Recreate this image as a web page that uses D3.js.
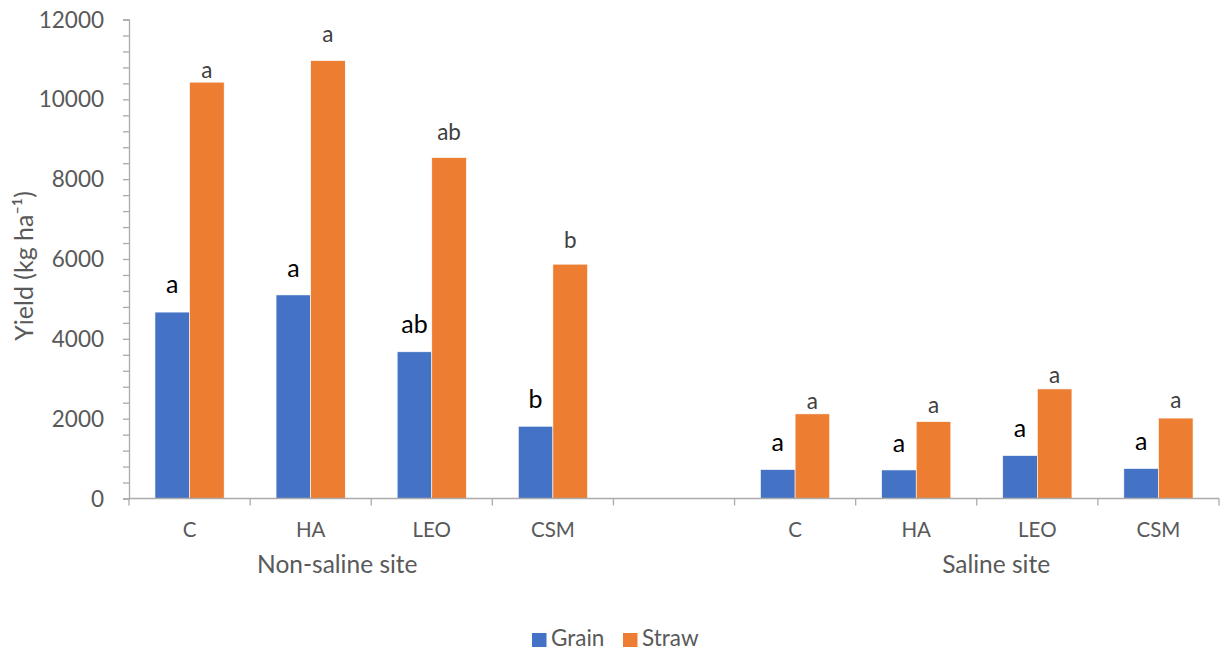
<!DOCTYPE html>
<html>
<head>
<meta charset="utf-8">
<script src="https://cdn.jsdelivr.net/npm/d3@7"></script>
<style>
  html, body { margin: 0; padding: 0; background: #fff; }
  svg { display: block; font-family: Lato, "Open Sans", sans-serif; }
</style>
</head>
<body>
<svg id="chart" width="1220" height="650"></svg>
<script>
// Yield data (kg ha-1) by treatment and site
const treatments = ["C", "HA", "LEO", "CSM"];
const sites = ["Non-saline site", "Saline site"];
const seriesNames = ["Grain", "Straw"];

const grainNonSaline = [4670, 5100, 3675, 1810];
const strawNonSaline = [10430, 10970, 8540, 5870];
const grainSaline = [725, 715, 1075, 750];
const strawSaline = [2120, 1925, 2745, 2015];

// Significance letters shown above bars
const grainLettersNonSaline = ["a", "a", "ab", "b"];
const strawLettersNonSaline = ["a", "a", "ab", "b"];
const grainLettersSaline = ["a", "a", "a", "a"];
const strawLettersSaline = ["a", "a", "a", "a"];

// Yield level (kg ha-1) at which each letter sits (above the variability range)
const grainLetterLevelNonSaline = [5148, 5560, 4146, 2267];
const strawLetterLevelNonSaline = [10534, 11435, 8980, 6275];
const grainLetterLevelSaline = [1190, 1170, 1540, 1215];
const strawLetterLevelSaline = [2242, 2142, 2893, 2267];

const yTicks = [0, 2000, 4000, 6000, 8000, 10000, 12000];

const colors = { Grain: "#4472C4", Straw: "#ED7D31" };

// Category slots: four non-saline, one empty spacer, four saline
const slots = [
  ...treatments.map(t => "ns|" + t),
  "gap",
  ...treatments.map(t => "s|" + t)
];

const rows = [];
treatments.forEach((t, i) => {
  rows.push({ slot: "ns|" + t, series: "Grain", value: grainNonSaline[i], letter: grainLettersNonSaline[i], level: grainLetterLevelNonSaline[i] });
  rows.push({ slot: "ns|" + t, series: "Straw", value: strawNonSaline[i], letter: strawLettersNonSaline[i], level: strawLetterLevelNonSaline[i] });
  rows.push({ slot: "s|" + t, series: "Grain", value: grainSaline[i], letter: grainLettersSaline[i], level: grainLetterLevelSaline[i] });
  rows.push({ slot: "s|" + t, series: "Straw", value: strawSaline[i], letter: strawLettersSaline[i], level: strawLetterLevelSaline[i] });
});

const svg = d3.select("#chart");
const plotLeft = 129, plotRight = 1219, plotTop = 19.5, plotBottom = 498.5;

const x = d3.scaleBand().domain(slots).range([plotLeft, plotRight]).paddingInner(0).paddingOuter(0);
const xs = d3.scaleBand().domain(seriesNames).range([0, x.bandwidth()]).paddingInner(0).paddingOuter(0.75);
const y = d3.scaleLinear().domain([0, 12000]).range([plotBottom, plotTop]);

const axisColor = "#ABABAB";
const textColor = "#595959";

// Y axis: minor ticks every 400, labels every 2000
const yAxis = svg.append("g").attr("transform", `translate(${plotLeft},0)`)
  .call(d3.axisLeft(y).tickValues(d3.range(0, 12001, 400)).tickSize(6).tickFormat(""));
yAxis.select(".domain").attr("stroke", axisColor).attr("stroke-width", 1.3);
yAxis.selectAll(".tick line").attr("stroke", axisColor).attr("stroke-width", 1.3);

svg.append("g").selectAll("text").data(yTicks).join("text")
  .attr("x", 104).attr("y", d => y(d)).attr("dy", "0.36em")
  .attr("text-anchor", "end").attr("fill", textColor)
  .style("font-size", "22.5px").text(d => d);

// Bars
svg.append("g").selectAll("rect").data(rows).join("rect")
  .attr("x", d => x(d.slot) + xs(d.series))
  .attr("width", xs.bandwidth())
  .attr("y", d => y(d.value))
  .attr("height", d => y(0) - y(d.value))
  .attr("fill", d => colors[d.series])
  .attr("stroke", "#fff").attr("stroke-width", 0.6);

// Letters above bars
svg.append("g").selectAll("text").data(rows).join("text")
  .attr("x", d => x(d.slot) + xs(d.series) + xs.bandwidth() / 2)
  .attr("y", d => y(d.level))
  .attr("text-anchor", "middle")
  .attr("fill", d => d.series === "Grain" ? "#000" : "#404040")
  .style("font-size", d => d.series === "Grain" ? "25px" : "22.5px")
  .text(d => d.letter);

// X axis with slot boundary ticks
const xAxis = svg.append("g");
xAxis.append("line").attr("x1", plotLeft).attr("x2", plotRight).attr("y1", plotBottom).attr("y2", plotBottom)
  .attr("stroke", axisColor).attr("stroke-width", 1.3);
xAxis.selectAll("line.tk").data([...slots.map(s => x(s)), plotRight]).join("line")
  .attr("class", "tk").attr("x1", d => d).attr("x2", d => d)
  .attr("y1", plotBottom).attr("y2", plotBottom + 7)
  .attr("stroke", axisColor).attr("stroke-width", 1.3);

xAxis.selectAll("text.cat").data(slots.filter(s => s !== "gap")).join("text")
  .attr("class", "cat")
  .attr("x", d => x(d) + x.bandwidth() / 2).attr("y", 537)
  .attr("text-anchor", "middle").attr("fill", textColor)
  .style("font-size", "20.5px").text(d => d.split("|")[1]);

// Site labels
const siteAnchor = [x("ns|HA") + x.bandwidth() * 0.72, x("s|LEO") + x.bandwidth() * 0.16];
xAxis.selectAll("text.site").data(sites).join("text")
  .attr("class", "site")
  .attr("x", (d, i) => siteAnchor[i]).attr("y", 573)
  .attr("text-anchor", "middle").attr("fill", textColor)
  .style("font-size", "24.5px").text(d => d);

// Y axis title
svg.append("text")
  .attr("transform", `translate(33,266) rotate(-90)`)
  .attr("text-anchor", "middle").attr("fill", textColor)
  .style("font-size", "25px")
  .text("Yield (kg ha\u207B\u00B9)");

// Legend
const legend = svg.append("g");
const legendX = [532, 623];
seriesNames.forEach((s, i) => {
  legend.append("rect").attr("x", legendX[i]).attr("y", 633).attr("width", 14.5).attr("height", 14)
    .attr("fill", colors[s]);
  legend.append("text").attr("x", legendX[i] + 19).attr("y", 646)
    .attr("fill", textColor).style("font-size", "22.5px").text(s);
});
</script>
</body>
</html>
